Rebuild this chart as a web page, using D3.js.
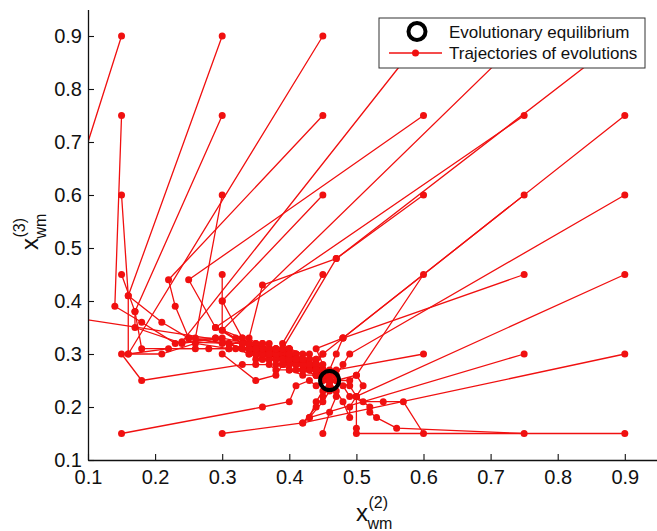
<!DOCTYPE html>
<html>
<head>
<meta charset="utf-8">
<script src="https://cdn.jsdelivr.net/npm/d3@7"></script>
<style>
  body { margin: 0; background: #fff; }
  text { font-family: Arial, "Liberation Sans", Helvetica, sans-serif; }
</style>
</head>
<body>
<svg id="chart" width="657" height="531"></svg>
<script>
// Axis ticks and extents
const xTicks = [0.1, 0.2, 0.3, 0.4, 0.5, 0.6, 0.7, 0.8, 0.9];
const yTicks = [0.1, 0.2, 0.3, 0.4, 0.5, 0.6, 0.7, 0.8, 0.9];
const xDomain = [0.1, 0.95];
const yDomain = [0.1, 0.95];

// Evolutionary equilibrium (x_wm^(2), x_wm^(3))
const equilibrium = [0.46, 0.25];

const legendLabels = ["Evolutionary equilibrium", "Trajectories of evolutions"];

// Evolution trajectories, one per starting strategy, as [x_wm^(2), x_wm^(3)] steps
const trajectories = [
  [[0.15,0.90],[0.02,0.38],[0.33,0.32],[0.35,0.31],[0.36,0.32],[0.37,0.30],[0.39,0.31],[0.40,0.29],[0.42,0.29],[0.43,0.28],[0.44,0.27],[0.45,0.26],[0.46,0.25]],
  [[0.15,0.75],[0.14,0.39],[0.18,0.36],[0.23,0.32],[0.29,0.33],[0.33,0.31],[0.35,0.30],[0.36,0.31],[0.38,0.29],[0.39,0.30],[0.41,0.28],[0.42,0.29],[0.44,0.27],[0.45,0.26],[0.46,0.25]],
  [[0.15,0.60],[0.16,0.41],[0.16,0.30],[0.21,0.30],[0.26,0.32],[0.31,0.31],[0.34,0.31],[0.35,0.29],[0.37,0.30],[0.38,0.28],[0.40,0.29],[0.41,0.27],[0.43,0.28],[0.44,0.26],[0.46,0.25]],
  [[0.15,0.45],[0.17,0.38],[0.17,0.35],[0.24,0.32],[0.30,0.33],[0.34,0.32],[0.36,0.30],[0.37,0.31],[0.39,0.29],[0.40,0.30],[0.42,0.28],[0.43,0.27],[0.45,0.27],[0.46,0.25]],
  [[0.15,0.30],[0.18,0.25],[0.33,0.28],[0.35,0.28],[0.37,0.28],[0.38,0.27],[0.40,0.27],[0.42,0.26],[0.44,0.26],[0.46,0.25]],
  [[0.15,0.15],[0.36,0.20],[0.40,0.21],[0.41,0.24],[0.43,0.25],[0.44,0.24],[0.46,0.25]],
  [[0.30,0.90],[0.16,0.41],[0.21,0.36],[0.25,0.33],[0.31,0.32],[0.34,0.30],[0.35,0.31],[0.37,0.29],[0.38,0.30],[0.40,0.28],[0.41,0.29],[0.43,0.27],[0.44,0.28],[0.45,0.26],[0.46,0.25]],
  [[0.30,0.75],[0.17,0.38],[0.18,0.31],[0.26,0.31],[0.31,0.31],[0.34,0.31],[0.36,0.29],[0.37,0.31],[0.39,0.30],[0.40,0.28],[0.42,0.29],[0.43,0.27],[0.45,0.27],[0.46,0.25]],
  [[0.30,0.60],[0.26,0.33],[0.29,0.33],[0.33,0.31],[0.35,0.32],[0.36,0.30],[0.38,0.31],[0.39,0.29],[0.41,0.30],[0.42,0.28],[0.44,0.28],[0.45,0.26],[0.46,0.25]],
  [[0.30,0.45],[0.30,0.40],[0.30,0.345],[0.33,0.33],[0.35,0.30],[0.36,0.31],[0.38,0.30],[0.39,0.28],[0.41,0.29],[0.42,0.27],[0.44,0.27],[0.46,0.25]],
  [[0.30,0.30],[0.35,0.25],[0.38,0.26],[0.39,0.28],[0.40,0.27],[0.42,0.27],[0.44,0.26],[0.46,0.25]],
  [[0.30,0.15],[0.42,0.17],[0.43,0.18],[0.44,0.21],[0.45,0.23],[0.46,0.25]],
  [[0.45,0.90],[0.16,0.30],[0.22,0.31],[0.28,0.31],[0.32,0.31],[0.34,0.30],[0.36,0.31],[0.37,0.29],[0.39,0.31],[0.40,0.30],[0.41,0.28],[0.43,0.29],[0.44,0.27],[0.45,0.26],[0.46,0.25]],
  [[0.45,0.75],[0.22,0.44],[0.23,0.39],[0.25,0.33],[0.30,0.32],[0.34,0.31],[0.35,0.30],[0.37,0.30],[0.38,0.31],[0.40,0.29],[0.41,0.30],[0.42,0.28],[0.44,0.28],[0.45,0.27],[0.46,0.25]],
  [[0.45,0.60],[0.30,0.40],[0.33,0.33],[0.35,0.31],[0.36,0.29],[0.38,0.30],[0.39,0.29],[0.41,0.29],[0.42,0.27],[0.44,0.27],[0.45,0.25],[0.46,0.25]],
  [[0.45,0.45],[0.39,0.32],[0.40,0.31],[0.42,0.30],[0.43,0.28],[0.44,0.29],[0.45,0.27],[0.46,0.25]],
  [[0.45,0.30],[0.44,0.29],[0.45,0.27],[0.46,0.25]],
  [[0.45,0.15],[0.46,0.19],[0.47,0.22],[0.46,0.24],[0.46,0.25]],
  [[0.60,0.90],[0.24,0.323],[0.31,0.32],[0.34,0.32],[0.35,0.30],[0.37,0.31],[0.38,0.29],[0.40,0.30],[0.41,0.28],[0.43,0.28],[0.44,0.26],[0.46,0.25]],
  [[0.60,0.75],[0.25,0.44],[0.29,0.35],[0.32,0.33],[0.35,0.32],[0.36,0.30],[0.38,0.30],[0.39,0.28],[0.41,0.30],[0.42,0.28],[0.44,0.28],[0.45,0.26],[0.46,0.25]],
  [[0.60,0.60],[0.47,0.48],[0.36,0.43],[0.34,0.33],[0.36,0.31],[0.37,0.32],[0.38,0.30],[0.40,0.31],[0.41,0.29],[0.43,0.30],[0.44,0.28],[0.45,0.27],[0.46,0.25]],
  [[0.60,0.45],[0.50,0.26],[0.49,0.25],[0.47,0.25],[0.46,0.25]],
  [[0.60,0.30],[0.47,0.27],[0.46,0.26],[0.46,0.25]],
  [[0.60,0.15],[0.57,0.21],[0.54,0.21],[0.51,0.21],[0.49,0.22],[0.48,0.24],[0.46,0.25]],
  [[0.75,0.90],[0.30,0.345],[0.33,0.32],[0.35,0.31],[0.36,0.32],[0.38,0.31],[0.39,0.29],[0.40,0.31],[0.42,0.29],[0.43,0.29],[0.44,0.27],[0.45,0.26],[0.46,0.25]],
  [[0.75,0.75],[0.29,0.35],[0.33,0.32],[0.35,0.31],[0.37,0.30],[0.38,0.31],[0.40,0.29],[0.41,0.29],[0.43,0.28],[0.44,0.27],[0.46,0.25]],
  [[0.75,0.60],[0.48,0.33],[0.45,0.30],[0.44,0.28],[0.45,0.26],[0.46,0.25]],
  [[0.75,0.45],[0.48,0.33],[0.44,0.31],[0.45,0.28],[0.46,0.26],[0.46,0.25]],
  [[0.75,0.30],[0.43,0.18],[0.45,0.21],[0.46,0.23],[0.46,0.25]],
  [[0.75,0.15],[0.56,0.16],[0.53,0.18],[0.52,0.19],[0.52,0.20],[0.50,0.22],[0.49,0.24],[0.46,0.25]],
  [[0.90,0.90],[0.47,0.48],[0.39,0.31],[0.40,0.30],[0.42,0.29],[0.43,0.28],[0.44,0.27],[0.46,0.25]],
  [[0.90,0.75],[0.48,0.33],[0.47,0.30],[0.46,0.27],[0.46,0.25]],
  [[0.90,0.60],[0.49,0.30],[0.48,0.28],[0.47,0.26],[0.46,0.25]],
  [[0.90,0.45],[0.50,0.22],[0.49,0.20],[0.49,0.18],[0.48,0.21],[0.47,0.23],[0.46,0.25]],
  [[0.90,0.30],[0.42,0.17],[0.44,0.20],[0.45,0.22],[0.46,0.24],[0.46,0.25]],
  [[0.90,0.15],[0.50,0.15],[0.50,0.16],[0.50,0.22],[0.51,0.24],[0.50,0.26],[0.47,0.25],[0.46,0.25]]
];

const RED = "#f01010";
const svg = d3.select("#chart");

const x = d3.scaleLinear().domain(xDomain).range([88, 658.35]);
const y = d3.scaleLinear().domain(yDomain).range([460, 9.5]);

// Clip trajectories to the plotting area
svg.append("defs").append("clipPath").attr("id", "plotClip")
  .append("rect")
  .attr("x", x(xDomain[0])).attr("y", y(yDomain[1]))
  .attr("width", x(xDomain[1]) - x(xDomain[0]))
  .attr("height", y(yDomain[0]) - y(yDomain[1]));

const plot = svg.append("g").attr("clip-path", "url(#plotClip)");

const line = d3.line().x(d => x(d[0])).y(d => y(d[1]));

plot.selectAll("path.traj").data(trajectories).join("path")
  .attr("class", "traj")
  .attr("d", line)
  .attr("fill", "none")
  .attr("stroke", RED)
  .attr("stroke-width", 1.3)
  .attr("stroke-linejoin", "round");

plot.selectAll("g.pts").data(trajectories).join("g")
  .attr("class", "pts")
  .selectAll("circle").data(d => d).join("circle")
  .attr("cx", d => x(d[0]))
  .attr("cy", d => y(d[1]))
  .attr("r", 3.5)
  .attr("fill", RED);

// Equilibrium ring
plot.append("circle")
  .attr("cx", x(equilibrium[0]))
  .attr("cy", y(equilibrium[1]))
  .attr("r", 9.5)
  .attr("fill", "none")
  .attr("stroke", "#000")
  .attr("stroke-width", 4);

// Axes with inward ticks
const fmt = d3.format(".1f");
const xAxis = svg.append("g")
  .attr("transform", `translate(0,${y(yDomain[0])})`)
  .call(d3.axisBottom(x).tickValues(xTicks).tickFormat(fmt)
    .tickSizeInner(-6).tickSizeOuter(0).tickPadding(10));
const yAxis = svg.append("g")
  .attr("transform", `translate(${x(xDomain[0])},0)`)
  .call(d3.axisLeft(y).tickValues(yTicks).tickFormat(fmt)
    .tickSizeInner(-6).tickSizeOuter(0).tickPadding(6));

[xAxis, yAxis].forEach(g => {
  g.select(".domain").attr("stroke", "#111").attr("stroke-width", 1.3);
  g.selectAll(".tick line").attr("stroke", "#111").attr("stroke-width", 1.1);
  g.selectAll(".tick text").attr("fill", "#111")
    .style("font-size", "20px")
    .style("font-family", "Arial, 'Liberation Sans', Helvetica, sans-serif");
});

// Axis titles x_wm^(2) and x_wm^(3)
const xl = svg.append("text").attr("transform", "translate(356,521)").attr("fill", "#111");
xl.append("tspan").attr("font-size", 24).text("x");
xl.append("tspan").attr("font-size", 16).attr("x", 12.5).attr("y", -13).text("(2)");
xl.append("tspan").attr("font-size", 16).attr("x", 11.5).attr("y", 8).text("wm");

const yl = svg.append("text").attr("transform", "translate(38,250) rotate(-90)").attr("fill", "#111");
yl.append("tspan").attr("font-size", 24).text("x");
yl.append("tspan").attr("font-size", 16).attr("x", 12.5).attr("y", -13).text("(3)");
yl.append("tspan").attr("font-size", 16).attr("x", 11.5).attr("y", 8).text("wm");

// Legend
const lg = svg.append("g");
lg.append("rect")
  .attr("x", 379).attr("y", 18).attr("width", 266).attr("height", 50)
  .attr("fill", "#fff").attr("stroke", "#333").attr("stroke-width", 1);
lg.append("circle")
  .attr("cx", 417).attr("cy", 31.5).attr("r", 8.5)
  .attr("fill", "none").attr("stroke", "#000").attr("stroke-width", 4);
lg.append("line")
  .attr("x1", 389).attr("x2", 442).attr("y1", 53).attr("y2", 53)
  .attr("stroke", RED).attr("stroke-width", 1.3);
lg.append("circle")
  .attr("cx", 415.5).attr("cy", 53).attr("r", 3.5).attr("fill", RED);
lg.selectAll("text.lab").data(legendLabels).join("text")
  .attr("class", "lab")
  .attr("x", 449)
  .attr("y", (d, i) => 37.5 + i * 21.5)
  .attr("font-size", 17)
  .attr("fill", "#111")
  .text(d => d);
</script>
</body>
</html>
